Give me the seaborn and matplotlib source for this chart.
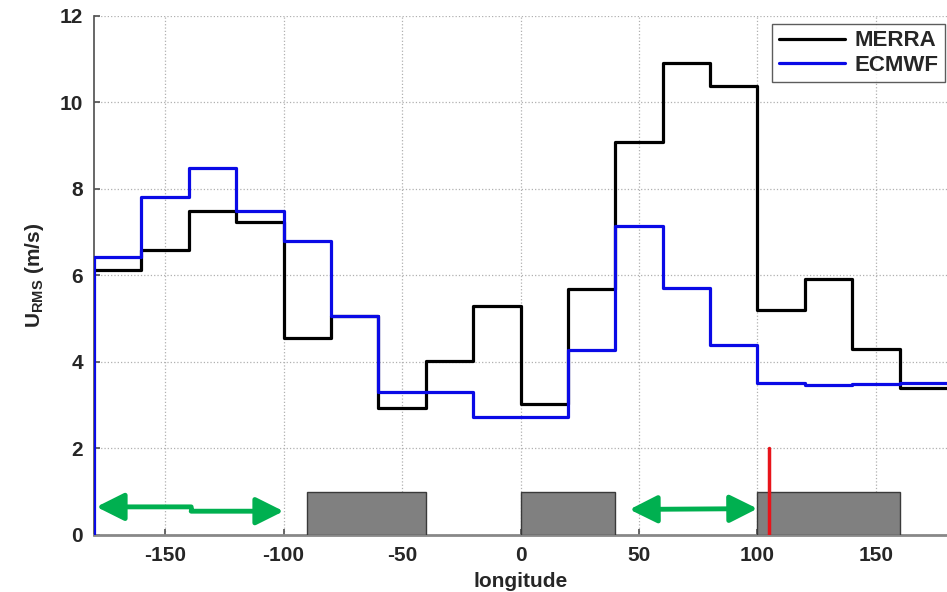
import matplotlib
matplotlib.use("Agg")
import matplotlib.pyplot as plt
import seaborn as sns
import pandas as pd
from matplotlib.patches import Rectangle

# bin edges in longitude (20 degree bins)
lon_edges = [-180, -160, -140, -120, -100, -80, -60, -40, -20, 0,
             20, 40, 60, 80, 100, 120, 140, 160, 180]

# RMS wind per bin (m/s)
merra = [6.13, 6.60, 7.50, 7.24, 4.55, 5.06, 2.93, 4.02, 5.29,
         3.03, 5.69, 9.09, 10.91, 10.38, 5.20, 5.92, 4.30, 3.40]
ecmwf = [6.43, 7.82, 8.49, 7.49, 6.80, 5.06, 3.31, 3.31, 2.73,
         2.73, 4.28, 7.14, 5.71, 4.39, 3.51, 3.47, 3.49, 3.51]

# grey boxes (start, end) along the bottom, height 1
box_spans = [(-90, -40), (0, 40), (100, 160)]
box_height = 1.0

# green arrows: (x0, y0, x1, y1)
arrow_left = [(-179, 0.65, -139, 0.65), (-139, 0.55, -100, 0.55)]
arrow_right = (46, 0.59, 100, 0.61)

# red marker
red_lon = 105
red_top = 2.0

sns.set_theme(style="white")
plt.rcParams['font.family'] = ['Liberation Sans', 'DejaVu Sans']
plt.rcParams['font.weight'] = 'bold'
plt.rcParams['axes.unicode_minus'] = False
plt.rcParams['mathtext.fontset'] = 'custom'
plt.rcParams['mathtext.rm'] = 'Liberation Sans:bold'
plt.rcParams['mathtext.bf'] = 'Liberation Sans:bold'

fig = plt.figure(figsize=(9.47, 5.92), dpi=100)
ax = fig.add_axes([0.0993, 0.0963, 0.9007, 0.8767])

# step lines: repeat the last value so steps-post reaches 180
df_m = pd.DataFrame({'lon': lon_edges, 'u': merra + [merra[-1]]})
df_e = pd.DataFrame({'lon': [lon_edges[0]] + lon_edges,
                     'u': [0.0] + ecmwf + [ecmwf[-1]]})

sns.lineplot(data=df_m, x='lon', y='u', ax=ax, color='black', lw=2.3,
             drawstyle='steps-post', estimator=None, sort=False,
             label='MERRA', zorder=4)
sns.lineplot(data=df_e, x='lon', y='u', ax=ax, color='#0a0ae6', lw=2.3,
             drawstyle='steps-post', estimator=None, sort=False,
             label='ECMWF', zorder=4)

for x0, x1 in box_spans:
    ax.add_patch(Rectangle((x0, 0), x1 - x0, box_height, facecolor='#808080',
                           edgecolor='#3a3a3a', lw=1, zorder=3))

green = '#00b050'
head = '-|>,head_length=1.2,head_width=0.6'
ax.annotate('', xy=arrow_left[0][:2], xytext=arrow_left[0][2:],
            arrowprops=dict(arrowstyle=head, color=green, lw=3.5,
                            mutation_scale=14, shrinkA=0, shrinkB=0), zorder=5)
ax.annotate('', xy=arrow_left[1][2:], xytext=arrow_left[1][:2],
            arrowprops=dict(arrowstyle=head, color=green, lw=3.5,
                            mutation_scale=14, shrinkA=0, shrinkB=0), zorder=5)
ax.plot([arrow_left[0][2], arrow_left[0][2]], [arrow_left[0][1], arrow_left[1][1]],
        color=green, lw=3.5, zorder=5, solid_capstyle='butt')
ax.annotate('', xy=arrow_right[2:], xytext=arrow_right[:2],
            arrowprops=dict(arrowstyle='<|-|>,head_length=1.2,head_width=0.6',
                            color=green, lw=3.5, mutation_scale=14,
                            shrinkA=0, shrinkB=0), zorder=5)

ax.plot([red_lon, red_lon], [0, red_top], color='#e8141a', lw=2.5, zorder=6)

ax.set_xlim(-180, 180)
ax.set_ylim(0, 12)
ax.set_xticks([-150, -100, -50, 0, 50, 100, 150])
ax.set_yticks(range(0, 13, 2))
ax.grid(True, color='#b0b0b0', linestyle=':', lw=0.9)
ax.set_axisbelow(True)
ax.tick_params(axis='both', labelsize=15, direction='in', length=4,
               color='#555555', bottom=True, left=True, pad=8)
for lab in ax.get_xticklabels() + ax.get_yticklabels():
    lab.set_fontweight('bold')

for side in ['top', 'right']:
    ax.spines[side].set_visible(False)
ax.spines['left'].set_color('#555555')
ax.spines['bottom'].set_color('#888888')
ax.spines['bottom'].set_linewidth(2)

ax.set_xlabel('longitude', fontsize=15, fontweight='bold', labelpad=5)
ax.set_ylabel(r'U$_{\mathrm{RMS}}$ (m/s)', fontsize=15, fontweight='bold', labelpad=10)

leg = ax.legend(loc='upper right', fontsize=16, frameon=True, fancybox=False,
                handlelength=3.0, handletextpad=0.4, borderpad=0.3,
                labelspacing=0.15, borderaxespad=0,
                bbox_to_anchor=(0.9975, 0.985))
leg.get_frame().set_edgecolor('#333333')
leg.get_frame().set_linewidth(1)
for t in leg.get_texts():
    t.set_fontweight('bold')

fig.savefig('out.png', dpi=100)
